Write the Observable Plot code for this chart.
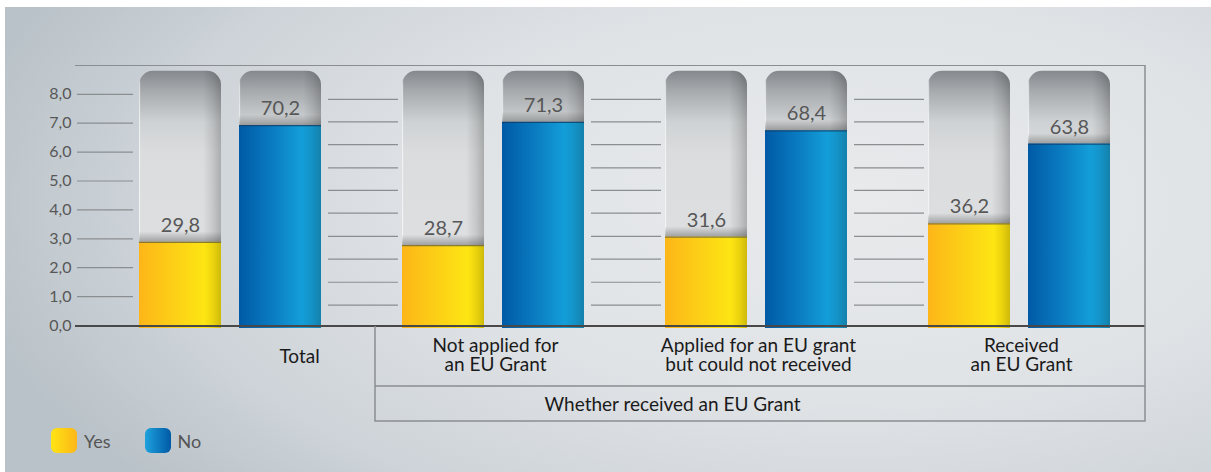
<!DOCTYPE html>
<html>
<head>
<meta charset="utf-8">
<script src="https://cdn.jsdelivr.net/npm/d3@7"></script>
<script src="https://cdn.jsdelivr.net/npm/@observablehq/plot@0.6"></script>
<style>
  html, body { margin: 0; padding: 0; background: #ffffff; }
  #wrap { position: relative; width: 1211px; height: 472px; overflow: hidden; font-family: Lato, "Open Sans", sans-serif; }
  #panel { position: absolute; left: 5px; top: 7px; right: 0; bottom: 0;
    background: radial-gradient(ellipse 75% 95% at 70% 42%, #e8eaec 0%, #e0e3e6 45%, #cdd3d8 78%, #b9c2c8 100%); }
  #chart { position: absolute; left: 0; top: 0; }
  #legend { position: absolute; left: 51px; top: 428px; display: flex; align-items: center; font-size: 18px; color: #555; }
  .item { display: flex; align-items: center; margin-right: 34px; }
  .sw { width: 26px; height: 25px; border-radius: 6px; margin-right: 7px; }
</style>
</head>
<body>
<div id="wrap">
  <div id="panel"></div>
  <div id="chart"></div>
  <div id="legend"></div>
</div>
<script>
// ---- data ----
const groups = ["Total", "Not applied for\nan EU Grant", "Applied for an EU grant\nbut could not received", "Received\nan EU Grant"];
const series = ["Yes", "No"];
const yesValues = [29.8, 28.7, 31.6, 36.2];
const noValues = [70.2, 71.3, 68.4, 63.8];
const yTicks = [0, 10, 20, 30, 40, 50, 60, 70, 80];
const guideValues = [8.1, 16.0, 24.0, 31.9, 39.9, 47.8, 55.6, 63.6, 71.5, 79.3];
const trackTop = 89;
const frameTop = 91;
const superLabel = "Whether received an EU Grant";

// ---- derived tables ----
const yesRows = groups.map((g, i) => ({group: g, series: series[0], value: yesValues[i]}));
const noRows = groups.map((g, i) => ({group: g, series: series[1], value: noValues[i]}));
const guideRows = d3.cross(groups.slice(0, 3), guideValues).map(([g, v]) => ({group: g, value: v}));
const fmt = d => d.toFixed(1).replace(".", ",");
const tickFmt = d => (d / 10).toFixed(1).replace(".", ",");

const lineColor = "#8b8e91";
const BW = 182, BAR = 82;
const AX = -3; // axis drawn slightly above the bar baseline, as in the original

function defs() {
  const d = d3.create("svg:defs");
  const lin = (id, stops, vertical) => {
    const g = d.append("linearGradient").attr("id", id)
      .attr("x1", 0).attr("y1", 0).attr("x2", vertical ? 0 : 1).attr("y2", vertical ? 1 : 0);
    for (const [o, c, op] of stops) g.append("stop").attr("offset", o).attr("stop-color", c).attr("stop-opacity", op ?? 1);
  };
  lin("gYes", [[0, "#fdb618"], [0.45, "#fcd116"], [0.8, "#fde513"], [0.91, "#e9d20d"], [1, "#cdb90b"]]);
  lin("gNo", [[0, "#005aa6"], [0.4, "#0a7bc0"], [0.76, "#139ed9"], [0.88, "#1493c8"], [1, "#1481ab"]]);
  lin("gTrack", [[0, "#85888c"], [0.08, "#a8abae"], [0.2, "#cfd2d4"], [0.32, "#dadcde"], [1, "#dfe1e3"]], true);
  lin("gSide", [[0, "#ffffff", 0.9], [0.02, "#ffffff", 0], [0.78, "#000000", 0], [0.9, "#000000", 0.1], [1, "#000000", 0.22]]);
  lin("gShadow", [[0, "#3c3c3c", 0], [1, "#3c3c3c", 0.38]], true);
  return d.node();
}

function table(index, scales, values, dims) {
  const {width, marginRight} = dims;
  const right = width - marginRight;
  const y0 = scales.y(0) + AX + 1;
  const divX = scales.x(groups[1]) - 27;
  const r1 = y0 + 60, r2 = y0 + 95;
  const g = d3.create("svg:g").attr("stroke", lineColor).attr("stroke-width", 1.5).attr("fill", "none");
  g.append("path").attr("d", `M${divX},${y0}V${r2}H${right}V${scales.y(frameTop)}`);
  g.append("path").attr("d", `M${divX},${r1}H${right}`);
  return g.node();
}

const chart = Plot.plot({
  width: 1211,
  height: 428,
  marginTop: 65,
  marginBottom: 100,
  marginLeft: 75,
  marginRight: 66,
  style: {background: "transparent", overflow: "visible", fontFamily: "Lato, 'Open Sans', sans-serif"},
  x: {domain: groups, paddingInner: 0.308, paddingOuter: 0.188, align: 0.646, axis: null},
  y: {domain: [0, frameTop], axis: null},
  marks: [
    defs,
    // left axis tick segments
    Plot.tickY(yTicks, {x: () => groups[0], y: d => d, stroke: lineColor, strokeWidth: 1.2, insetRight: BW - 56, dx: -62, dy: AX}),
    // decorative guide segments between groups
    Plot.tickY(guideRows, {x: "group", y: "value", stroke: lineColor, strokeWidth: 1.2, insetRight: BW - 70, dx: 189}),
    // tracks
    Plot.barY(yesRows, {x: "group", y1: () => 0, y2: () => trackTop, fill: "url(#gTrack)", insetRight: BW - BAR, rx: 14}),
    Plot.barY(noRows, {x: "group", y1: () => 0, y2: () => trackTop, fill: "url(#gTrack)", insetLeft: BW - BAR, rx: 14}),
    Plot.barY(yesRows, {x: "group", y1: () => 0, y2: () => trackTop, fill: "url(#gSide)", insetRight: BW - BAR, rx: 14}),
    Plot.barY(noRows, {x: "group", y1: () => 0, y2: () => trackTop, fill: "url(#gSide)", insetLeft: BW - BAR, rx: 14}),
    // shadows above value bars
    Plot.barY(yesRows, {x: "group", y1: "value", y2: d => d.value + 3.6, fill: "url(#gShadow)", insetRight: BW - BAR}),
    Plot.barY(noRows, {x: "group", y1: "value", y2: d => d.value + 3.6, fill: "url(#gShadow)", insetLeft: BW - BAR}),
    // value bars
    Plot.barY(yesRows, {x: "group", y1: () => 0, y2: "value", fill: "url(#gYes)", insetRight: BW - BAR}),
    Plot.barY(noRows, {x: "group", y1: () => 0, y2: "value", fill: "url(#gNo)", insetLeft: BW - BAR}),
    Plot.tickY(yesRows, {x: "group", y: "value", stroke: "#6f6430", strokeOpacity: 0.8, strokeWidth: 1.2, insetRight: BW - BAR}),
    Plot.tickY(noRows, {x: "group", y: "value", stroke: "#0c3d66", strokeOpacity: 0.8, strokeWidth: 1.2, insetLeft: BW - BAR}),
    // value labels
    Plot.text(yesRows, {x: "group", y: "value", text: d => fmt(d.value), dx: -(BW - BAR) / 2, dy: -17, fontSize: 20, fill: "#575757"}),
    Plot.text(noRows, {x: "group", y: "value", text: d => fmt(d.value), dx: (BW - BAR) / 2, dy: -17, fontSize: 20, fill: "#575757"}),
    // frame lines
    Plot.ruleY([frameTop], {stroke: lineColor, strokeWidth: 1.2}),
    Plot.ruleY([0], {stroke: "#484848", strokeWidth: 2, dy: AX + 0.5}),
    table,
    // y tick labels
    Plot.text(yTicks, {y: d => d, text: tickFmt, frameAnchor: "left", textAnchor: "end", dx: -4, dy: AX, fontSize: 16, fill: "#575757"}),
    // category labels
    Plot.text(groups.slice(0, 1), {x: d => d, text: d => d, frameAnchor: "bottom", lineAnchor: "middle", dy: 28, dx: 69, fontSize: 19, fill: "#1a1a1a"}),
    Plot.text(groups.slice(1), {x: d => d, text: d => d, frameAnchor: "bottom", lineAnchor: "middle", dy: 27, dx: 2, fontSize: 19, lineHeight: 0.98, fill: "#1a1a1a"}),
    Plot.text([superLabel], {x: () => groups[2], text: d => d, frameAnchor: "bottom", lineAnchor: "middle", dy: 76, dx: -84, fontSize: 19, fill: "#1a1a1a"})
  ]
});
document.getElementById("chart").appendChild(chart);

// legend
const swatchBg = {Yes: "linear-gradient(to right, #fde513, #fdb618)", No: "linear-gradient(to right, #1ea2dd, #0059a5)"};
const legend = document.getElementById("legend");
for (const s of series) {
  const item = document.createElement("div");
  item.className = "item";
  const sw = document.createElement("div");
  sw.className = "sw";
  sw.style.background = swatchBg[s];
  const lab = document.createElement("span");
  lab.textContent = s;
  item.appendChild(sw);
  item.appendChild(lab);
  legend.appendChild(item);
}
</script>
</body>
</html>
